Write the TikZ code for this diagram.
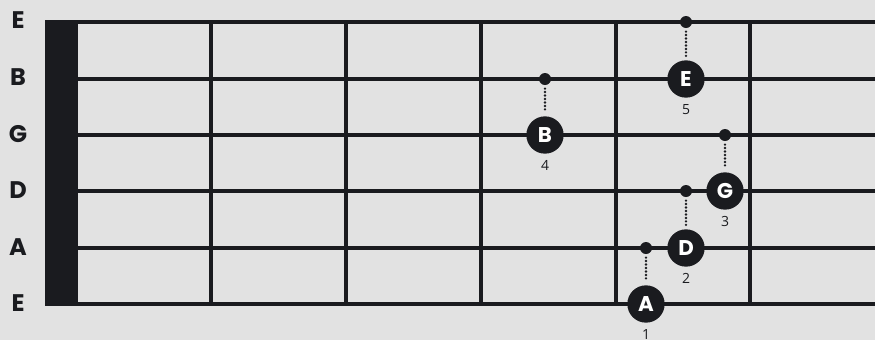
\documentclass[tikz,border=0pt]{standalone}
\usepackage{fontspec}
\setmainfont{Open Sans}
\newfontfamily\notefont{Poppins}[BoldFont={* Bold}]
\usepackage{xcolor}
\usepackage{tikz}
\usetikzlibrary{positioning}
\definecolor{fbink}{HTML}{1A1B1F}
\definecolor{fbpaper}{HTML}{E2E2E2}

\begin{document}
\begin{tikzpicture}[
      x=0.75pt, y=-0.75pt,
      stringline/.style={draw=fbink, line width=3.4pt},
      fretline/.style={draw=fbink, line width=2.8pt},
      strlbl/.style={font=\notefont\fontsize{18}{18}\selectfont\bfseries, text=fbink, inner sep=0pt},
      note/.style={circle, fill=fbink, minimum size=28pt, inner sep=0pt,
                   text=white, font=\notefont\fontsize{16}{16}\selectfont\bfseries},
      pin/.style={circle, fill=fbink, minimum size=9pt, inner sep=0pt},
      finger/.style={font=\fontsize{10.5}{10.5}\selectfont, text=fbink, inner sep=1pt},
      slide/.style={draw=fbink, line width=2pt, line cap=round,
                    dash pattern=on 0pt off 2.6pt, shorten >=2.5pt, shorten <=2.5pt},
    ]
    \clip (0,0) rectangle (875,340);
    \fill[fbpaper] (0,0) rectangle (875,340);

    % --- strings, nut and frets -------------------------------------------------
    \foreach \y in {22,79,135,191,248,304}
      \draw[stringline] (45,\y) -- (875,\y);
    \foreach \x in {211,346,481,616,750}
      \draw[fretline] (\x,22) -- (\x,304);
    \fill[fbink] (45,20) rectangle (78,306);

    % --- string names -----------------------------------------------------------
    \node[strlbl] (lblEhi) at (18,20) {E};
    \node[strlbl] (lblB) at (18,77) {B};
    \node[strlbl] (lblG) at (18,134) {G};
    \node[strlbl] (lblD) at (18,190) {D};
    \node[strlbl] (lblA) at (18,247) {A};
    \node[strlbl] (lblElo) at (18,303) {E};

    % --- open-string pins and fretted notes -------------------------------------
    \node[pin] (pinA) at (646,248) {};
    \node[note] (noteA) at (646,304) {A};
    \node[finger, below=3.5pt of noteA] (fingA) {1};

    \node[pin] (pinD) at (686,191) {};
    \node[note] (noteD) at (686,248) {D};
    \node[finger, below=3.5pt of noteD] (fingD) {2};

    \node[pin] (pinG) at (725,135) {};
    \node[note] (noteG) at (725,191) {G};
    \node[finger, below=3.5pt of noteG] (fingG) {3};

    \node[pin] (pinB) at (545,79) {};
    \node[note] (noteB) at (545,135) {B};
    \node[finger, below=3.5pt of noteB] (fingB) {4};

    \node[pin] (pinE) at (686,22) {};
    \node[note] (noteE) at (686,79) {E};
    \node[finger, below=3.5pt of noteE] (fingE) {5};

    \draw[slide] (pinA) -- (noteA);
    \draw[slide] (pinD) -- (noteD);
    \draw[slide] (pinG) -- (noteG);
    \draw[slide] (pinB) -- (noteB);
    \draw[slide] (pinE) -- (noteE);
  \end{tikzpicture}
\end{document}
